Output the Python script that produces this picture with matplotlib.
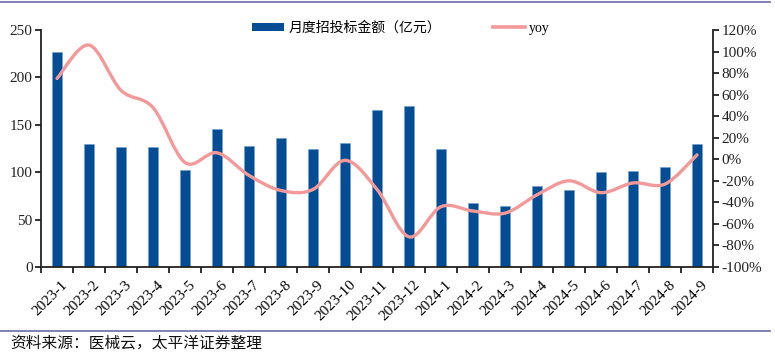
import matplotlib
matplotlib.use("Agg")
import matplotlib.pyplot as plt
from matplotlib.path import Path
from matplotlib.patches import PathPatch
from matplotlib.lines import Line2D
from matplotlib.patches import Patch
import numpy as np

categories = ["2023-1", "2023-2", "2023-3", "2023-4", "2023-5", "2023-6", "2023-7",
              "2023-8", "2023-9", "2023-10", "2023-11", "2023-12", "2024-1", "2024-2",
              "2024-3", "2024-4", "2024-5", "2024-6", "2024-7", "2024-8", "2024-9"]
amount = [227, 130, 127, 127, 102, 146, 128, 136, 125, 131, 166, 170, 124, 67,
          64, 85, 81, 100, 101, 106, 130]
yoy = [75, 106, 64, 48, -3, 6, -15, -29, -28, -1, -28, -72, -44, -48,
       -50, -33, -20, -31, -22, -23, 4]
left_ticks = [0, 50, 100, 150, 200, 250]
right_ticks = [-100, -80, -60, -40, -20, 0, 20, 40, 60, 80, 100, 120]

bar_color = "#024d94"
line_color = "#f4999a"
serif = ["Liberation Serif", "Noto Sans CJK SC"]

fig = plt.figure(figsize=(7.75, 3.55), dpi=100)
W, H = 775, 355
ax = fig.add_axes([41 / W, 1 - 267 / H, (713 - 41) / W, (267 - 30) / H])
ax2 = ax.twinx()

x = np.arange(len(categories))
ax.bar(x, amount, width=0.32, color=bar_color, edgecolor="#6f9fd0", linewidth=0.4, zorder=2)
ax.set_xlim(-0.5, len(categories) - 0.5)
ax.set_ylim(0, 250)
ax.set_yticks(left_ticks)
ax.set_yticklabels([str(t) for t in left_ticks], family=serif, fontsize=11)
ax.set_xticks(np.append(x - 0.5, len(categories) - 0.5))
ax.set_xticklabels([""] * (len(categories) + 1))
for i, c in enumerate(categories):
    ax.text(i + 0.12, -12, c, rotation=45, ha="right", va="top",
            rotation_mode="anchor", family=serif, fontsize=11,
            transform=ax.transData, clip_on=False)

# smoothed yoy line (Catmull-Rom style bezier through data points)
pts = np.column_stack([x, yoy]).astype(float)
verts = [tuple(pts[0])]
codes = [Path.MOVETO]
n = len(pts)
for i in range(n - 1):
    p0 = pts[i - 1] if i > 0 else pts[i]
    p1 = pts[i]
    p2 = pts[i + 1]
    p3 = pts[i + 2] if i + 2 < n else pts[i + 1]
    c1 = p1 + (p2 - p0) / 6.0
    c2 = p2 - (p3 - p1) / 6.0
    verts += [tuple(c1), tuple(c2), tuple(p2)]
    codes += [Path.CURVE4] * 3
ax2.add_patch(PathPatch(Path(verts, codes), facecolor="none", edgecolor=line_color,
                        lw=2.4, capstyle="round", joinstyle="round", zorder=3))
ax2.set_ylim(-100, 120)
ax2.set_yticks(right_ticks)
ax2.set_yticklabels([f"{t}%" for t in right_ticks], family=serif, fontsize=11)

for a in (ax, ax2):
    a.spines["top"].set_visible(False)
    for s in ("left", "right", "bottom"):
        a.spines[s].set_linewidth(1.3)
        a.spines[s].set_color("#222222")
    a.tick_params(length=4, width=1.3, colors="#222222", labelcolor="#222222", pad=2)
ax2.spines["left"].set_visible(False)
ax2.spines["bottom"].set_visible(False)
ax.spines["right"].set_visible(False)

handles = [Patch(facecolor=bar_color, label="月度招投标金额（亿元）"),
           Line2D([0], [0], color=line_color, lw=2.6, label="yoy")]
leg = fig.legend(handles=handles, loc="center", bbox_to_anchor=(401 / W, 1 - 28 / H),
                 ncol=2, frameon=False, prop={"family": serif, "size": 10},
                 handlelength=2.3, handleheight=0.55, columnspacing=3.7, handletextpad=0.35)

# frame lines
fig.add_artist(Line2D([0, 770 / W], [1 - 1.5 / H, 1 - 1.5 / H], color="#6c6ca6", lw=1.2))
fig.add_artist(Line2D([0, 770 / W], [1 - 331 / H, 1 - 331 / H], color="#6c6ca6", lw=1.2))
fig.text(10 / W, 1 - 343 / H, "资料来源：医械云，太平洋证券整理", family=serif,
         fontsize=11.3, va="center", ha="left", style="italic", color="#111111")

fig.savefig("out.png", dpi=100)
